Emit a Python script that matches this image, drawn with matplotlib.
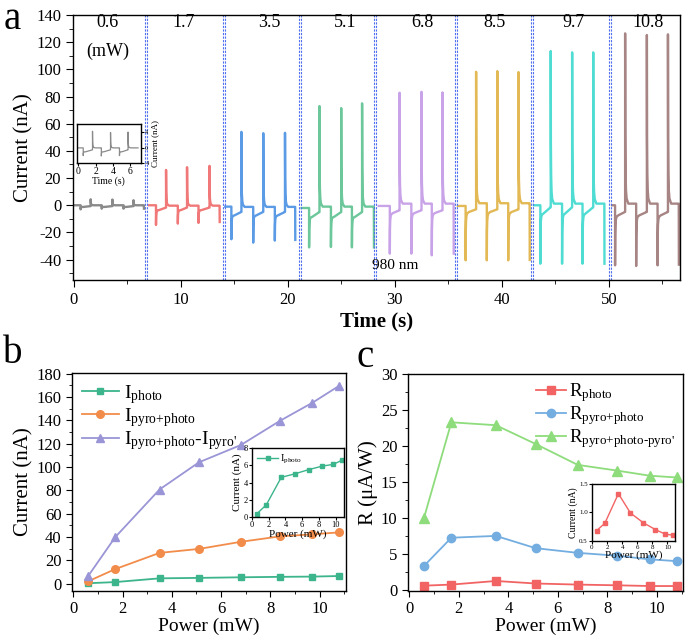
import matplotlib
matplotlib.use('Agg')
import matplotlib.pyplot as plt
from matplotlib.ticker import MultipleLocator

plt.rcParams['font.family'] = ['Liberation Serif', 'DejaVu Serif']
plt.rcParams['mathtext.fontset'] = 'custom'
plt.rcParams['mathtext.rm'] = 'Liberation Serif'
plt.rcParams['mathtext.it'] = 'Liberation Serif:italic'
plt.rcParams['axes.linewidth'] = 1.0
plt.rcParams['axes.unicode_minus'] = False

# ---------------- Panel a data ----------------
seg_power = ['0.6', '1.7', '3.5', '5.1', '6.8', '8.5', '9.7', '10.8']
seg_colors = ['#8a8a8a', '#f07878', '#5b9be6', '#6cc79a', '#c9a3e8', '#e2b955', '#4fdcd2', '#a88585']
seg_start = [0.0, 7.05, 14.17, 21.3, 28.5, 35.9, 43.0, 50.3]
start_level = [0.0, 0.0, -1.0, -2.0, -0.5, -0.5, 0.0, 0.0]
neg_times = [[0.66, 2.63, 4.67, 6.57],
             [7.70, 9.74, 11.67, 13.64],
             [14.74, 16.78, 18.80, 20.70],
             [22.00, 24.04, 26.00, 28.05],
             [29.54, 31.55, 33.46, 35.50],
             [36.62, 38.60, 40.60, 42.60],
             [43.60, 45.63, 47.54, 49.58],
             [50.58, 52.55, 54.55, 56.53]]
pos_times = [[1.60, 3.63, 5.60],
             [8.64, 10.60, 12.70],
             [15.68, 17.72, 19.75],
             [22.97, 25.00, 26.95],
             [30.45, 32.50, 34.46],
             [37.60, 39.58, 41.56],
             [44.57, 46.57, 48.54],
             [51.52, 53.55, 55.52]]
pos_peaks = [[4.4, 4.2, 3.7],
             [26.0, 28.0, 29.0],
             [54.0, 53.0, 53.3],
             [73.0, 71.5, 75.0],
             [82.8, 83.5, 83.0],
             [98.2, 98.7, 98.0],
             [113.5, 112.5, 112.5],
             [126.5, 125.3, 125.8]]
neg_troughs = [[-3.0, -2.5, -2.5, -2.5],
               [-14.5, -13.5, -13.0, -12.3],
               [-25.0, -27.5, -26.0, -25.5],
               [-31.0, -30.7, -31.0, -31.0],
               [-35.6, -35.6, -36.8, -35.6],
               [-40.5, -40.5, -40.5, -40.2],
               [-43.0, -43.0, -43.0, -43.0],
               [-44.2, -44.7, -44.2, -43.7]]
high_level = [0.0, -0.3, -1.2, -1.0, 1.2, 1.5, 1.2, 1.2]
low_start = [-1.2, -3.5, -7.4, -8.5, -5.7, -5.0, -6.0, -7.4]
low_end = [-0.6, -1.7, -4.9, -5.0, -3.7, -3.0, -1.5, -4.9]
dividers = [6.8, 14.03, 21.18, 28.19, 35.73, 42.83, 50.09]
label_x = [3.2, 10.3, 18.3, 25.4, 32.6, 39.3, 46.7, 53.7]

# inset of panel a (0.6 mW)
ins_neg_times = [0.57, 2.66, 4.75]
ins_pos_times = [1.64, 3.72, 5.74]
ins_pos_peaks = [4.3, 4.0, 4.1]
ins_neg_troughs = [-2.0, -2.1, -2.0]

# ---------------- Panel b data ----------------
power = [0.6, 1.7, 3.5, 5.1, 6.8, 8.4, 9.7, 10.8]
I_photo = [0.4, 1.4, 4.6, 5.0, 5.5, 5.9, 6.1, 6.6]
I_pyro_photo = [2.0, 12.5, 26.4, 29.8, 35.9, 40.6, 42.3, 44.0]
I_diff = [6.4, 39.8, 80.7, 104.0, 118.8, 139.7, 155.0, 169.7]

# ---------------- Panel c data ----------------
R_photo = [0.65, 0.8, 1.3, 0.95, 0.8, 0.7, 0.6, 0.6]
R_pyro_photo = [3.4, 7.3, 7.55, 5.85, 5.2, 4.8, 4.3, 4.05]
R_diff = [10.1, 23.3, 22.9, 20.3, 17.4, 16.6, 15.9, 15.65]
R_inset = [0.68, 0.81, 1.33, 0.99, 0.82, 0.70, 0.62, 0.60]

# shape template for fast spike relaxation (time offsets, remaining fraction)
rel_dt = [0.0, 0.015, 0.04, 0.08, 0.14, 0.30]
rel_fr = [1.0, 0.40, 0.18, 0.08, 0.03, 0.0]


def build_trace(t0, lvl0, negs, troughs, poss, peaks, hi, lo_a, lo_b, t_end=None):
    ts, ys = [t0], [lvl0]
    events = [(t, 'n', v) for t, v in zip(negs, troughs)] + [(t, 'p', v) for t, v in zip(poss, peaks)]
    events.sort()
    for i, (t, kind, v) in enumerate(events):
        last = (i == len(events) - 1)
        if kind == 'n':
            ts.append(t); ys.append(ys[-1])
            if last and t_end is None:
                ts.append(t + 0.01); ys.append(v)
                continue
            for dt, fr in zip(rel_dt, rel_fr):
                ts.append(t + dt); ys.append(lo_a + (v - lo_a) * fr)
            nxt = events[i + 1][0] if not last else t_end
            ts.append(nxt - 0.01); ys.append(lo_b)
        else:
            ts.append(t); ys.append(ys[-1])
            for dt, fr in zip(rel_dt, rel_fr):
                ts.append(t + dt); ys.append(hi + (v - hi) * fr)
            nxt = events[i + 1][0] if not last else t_end
            ts.append(nxt - 0.01); ys.append(hi)
    return ts, ys


fig = plt.figure(figsize=(6.85, 6.39), dpi=100)

# ================= Panel a =================
axa = fig.add_axes([0.1066, 0.5618, 0.8854, 0.4147])
for k in range(len(seg_power)):
    ts, ys = build_trace(seg_start[k], start_level[k], neg_times[k], neg_troughs[k],
                         pos_times[k], pos_peaks[k], high_level[k], low_start[k], low_end[k])
    axa.plot(ts, ys, color=seg_colors[k], lw=1.7, solid_joinstyle='round')
for d in dividers:
    for off in (-0.1, 0.1):
        axa.axvline(d + off, color='#4f6ff0', lw=0.8, ls=(0, (2.0, 1.2)))
for x, s in zip(label_x, seg_power):
    axa.text(x, 140.5, s, ha='center', va='top', fontsize=13)
axa.text(3.2, 113, '(mW)', ha='center', va='center', fontsize=13)
axa.text(27.9, -44, '980 nm', ha='left', va='center', fontsize=11)
axa.set_xlim(-0.05, 56.6)
axa.set_ylim(-55, 140)
axa.xaxis.set_major_locator(MultipleLocator(10))
axa.xaxis.set_minor_locator(MultipleLocator(5))
axa.yaxis.set_major_locator(MultipleLocator(20))
axa.yaxis.set_minor_locator(MultipleLocator(10))
axa.tick_params(which='both', direction='out', top=False, right=False, labelsize=12)
axa.tick_params(which='major', length=5)
axa.tick_params(which='minor', length=3)
axa.set_ylabel('Current (nA)', fontsize=15, labelpad=2)
axa.set_xlabel('Time (s)', fontsize=15, fontweight='bold', labelpad=3)
fig.text(0.005, 0.998, 'a', fontsize=28, va='top', ha='left')

# inset a
axai = fig.add_axes([0.1124, 0.7444, 0.093, 0.061])
ts, ys = build_trace(-0.1, 0.0, ins_neg_times, ins_neg_troughs, ins_pos_times, ins_pos_peaks,
                     0.0, -1.0, -0.5, t_end=6.9)
axai.plot(ts, ys, color='#8a8a8a', lw=0.9)
axai.set_xlim(-0.15, 7.2)
axai.set_ylim(-3.6, 6.1)
axai.set_xticks([0, 2, 4, 6])
axai.set_yticks([-4, 0, 4])
axai.yaxis.tick_right()
axai.yaxis.set_label_position('right')
axai.tick_params(direction='out', labelsize=7, length=2, pad=1)
axai.tick_params(axis='y', labelsize=4.5)
axai.set_xlabel('Time (s)', fontsize=7, labelpad=0)
axai.set_ylabel('Current (nA)', fontsize=6.5, labelpad=1)

# ================= Panel b =================
axb = fig.add_axes([0.1051, 0.075, 0.3995, 0.3413])
axb.plot(power, I_photo, color='#3cb48c', marker='s', ms=5, lw=1.3, label=r'I$_{\text{photo}}$')
axb.plot(power, I_pyro_photo, color='#f28c4b', marker='o', ms=5.5, lw=1.3, label=r'I$_{\text{pyro+photo}}$')
axb.plot(power, I_diff, color='#9a95d6', marker='^', ms=5.5, lw=1.3,
         label=r"I$_{\text{pyro+photo}}$-I$_{\text{pyro'}}$")
axb.set_xlim(-0.05, 11.05)
axb.set_ylim(-6.3, 180.5)
axb.xaxis.set_major_locator(MultipleLocator(2))
axb.xaxis.set_minor_locator(MultipleLocator(1))
axb.yaxis.set_major_locator(MultipleLocator(20))
axb.yaxis.set_minor_locator(MultipleLocator(10))
axb.tick_params(which='both', direction='out', top=False, right=False, labelsize=12)
axb.tick_params(which='major', length=4)
axb.tick_params(which='minor', length=2.5)
axb.set_ylabel('Current (nA)', fontsize=15, labelpad=2)
axb.set_xlabel('Power (mW)', fontsize=14, labelpad=0)
axb.legend(loc='upper left', frameon=False, fontsize=14, handlelength=1.9,
           borderaxespad=0.1, labelspacing=0.02, handletextpad=0.25)
fig.text(0.005, 0.475, 'b', fontsize=28, va='top', ha='left')

# inset b
axbi = fig.add_axes([0.3679, 0.1909, 0.1343, 0.108])
axbi.plot(power, I_photo, color='#3cb48c', marker='s', ms=2.5, lw=1.0, label=r'I$_{\text{photo}}$')
axbi.set_xlim(0, 11)
axbi.set_ylim(0, 8)
axbi.set_xticks([0, 2, 4, 6, 8, 10])
axbi.set_yticks([0, 2, 4, 6, 8])
axbi.tick_params(direction='out', labelsize=6, length=2, pad=1)
axbi.set_xlabel('Power (mW)', fontsize=8, labelpad=0)
axbi.set_ylabel('Current (nA)', fontsize=8, labelpad=1)
axbi.legend(loc='upper left', frameon=False, fontsize=7.5, handlelength=2.0,
            borderaxespad=0.1, handletextpad=0.2)

# ================= Panel c =================
axc = fig.add_axes([0.5956, 0.075, 0.4015, 0.3397])
axc.plot(power, R_photo, color='#f26464', marker='s', ms=6, lw=1.3, label=r'R$_{\text{photo}}$')
axc.plot(power, R_pyro_photo, color='#74aee0', marker='o', ms=6, lw=1.3, label=r'R$_{\text{pyro+photo}}$')
axc.plot(power, R_diff, color='#8edc7c', marker='^', ms=6.5, lw=1.3,
         label=r"R$_{\text{pyro+photo-pyro'}}$")
axc.set_xlim(-0.05, 11.05)
axc.set_ylim(-0.1, 30)
axc.xaxis.set_major_locator(MultipleLocator(2))
axc.xaxis.set_minor_locator(MultipleLocator(1))
axc.yaxis.set_major_locator(MultipleLocator(5))
axc.yaxis.set_minor_locator(MultipleLocator(2.5))
axc.tick_params(which='both', direction='out', top=False, right=False, labelsize=12)
axc.tick_params(which='major', length=4)
axc.tick_params(which='minor', length=2.5)
axc.set_ylabel('R (μA/W)', fontsize=15, labelpad=2)
axc.set_xlabel('Power (mW)', fontsize=14, labelpad=0)
axc.legend(loc='upper right', frameon=False, fontsize=13.5, handlelength=1.6,
           borderaxespad=0.0, labelspacing=0.0, handletextpad=0.2)
fig.text(0.52, 0.47, 'c', fontsize=28, va='top', ha='left')

# inset c
axci = fig.add_axes([0.8642, 0.1534, 0.1212, 0.0892])
axci.plot(power, R_inset, color='#f26464', marker='s', ms=2.5, lw=1.0)
axci.set_xlim(0, 11)
axci.set_ylim(0.5, 1.5)
axci.set_xticks([0, 2, 4, 6, 8, 10])
axci.set_yticks([0.5, 1.0, 1.5])
axci.tick_params(direction='out', labelsize=5, length=2, pad=1)
axci.set_xlabel('Power (mW)', fontsize=8, labelpad=0)
axci.set_ylabel('Current (nA)', fontsize=7, labelpad=1)

fig.savefig('out.png', dpi=100)
